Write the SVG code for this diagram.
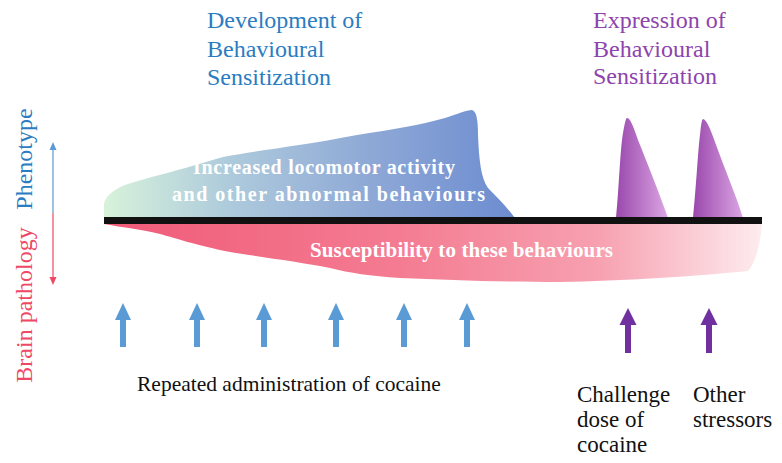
<svg xmlns="http://www.w3.org/2000/svg" width="782" height="463" viewBox="0 0 782 463">
<defs>
<linearGradient id="gBlue" x1="104" y1="0" x2="515" y2="0" gradientUnits="userSpaceOnUse">
<stop offset="0" stop-color="#d8f2da"/>
<stop offset="0.3" stop-color="#aecbdc"/>
<stop offset="0.65" stop-color="#8ea8d6"/>
<stop offset="1" stop-color="#6c8cd0"/>
</linearGradient>
<linearGradient id="gPink" x1="104" y1="0" x2="762" y2="0" gradientUnits="userSpaceOnUse">
<stop offset="0" stop-color="#f05a78"/>
<stop offset="0.45" stop-color="#f47c92"/>
<stop offset="0.75" stop-color="#f7a0b0"/>
<stop offset="1" stop-color="#fdecef"/>
</linearGradient>
<linearGradient id="gPurp" x1="0" y1="0" x2="1" y2="0">
<stop offset="0" stop-color="#9a48ac"/>
<stop offset="1" stop-color="#dba6e4"/>
</linearGradient>
<g id="arrB"><polygon points="0,303 8,320 -8,320" fill="#5b9bd5"/><rect x="-3" y="319" width="6" height="28" fill="#5b9bd5"/></g>
<g id="arrP"><polygon points="0,308 8.5,325 -8.5,325" fill="#7030a0"/><rect x="-3" y="324" width="6" height="29" fill="#7030a0"/></g>
</defs>
<rect width="782" height="463" fill="#ffffff"/>

<g id="title-development">
<text x="207" y="28" font-size="24" style="font-family:'Liberation Serif',serif" fill="#2b7cc0">Development of</text>
<text x="207" y="57" font-size="24" style="font-family:'Liberation Serif',serif" fill="#2b7cc0">Behavioural</text>
<text x="207" y="85" font-size="24" style="font-family:'Liberation Serif',serif" fill="#2b7cc0">Sensitization</text>
</g>
<g id="title-expression">
<text x="593" y="28" font-size="24" style="font-family:'Liberation Serif',serif" fill="#8d44ad">Expression of</text>
<text x="593" y="57" font-size="24" style="font-family:'Liberation Serif',serif" fill="#8d44ad">Behavioural</text>
<text x="593" y="84" font-size="24" style="font-family:'Liberation Serif',serif" fill="#8d44ad">Sensitization</text>
</g>

<g id="axis-labels">
<text font-size="24" style="font-family:'Liberation Serif',serif" fill="#2b7cc0" text-anchor="middle" transform="translate(32,159) rotate(-90)">Phenotype</text>
<text font-size="24" style="font-family:'Liberation Serif',serif" fill="#ee4866" text-anchor="middle" transform="translate(32,305) rotate(-90)">Brain pathology</text>
</g>

<g id="phenotype-shape">
<path d="M104,218 L104,205 C104,198 112,190 125,185 C150,177 180,170 223,157 C260,150 300,146 357,135 C390,130 420,125 445,118 C458,114 466,110 472,110 C476,111 478,118 478,135 C479,160 481,178 488,188 C496,196 505,205 515,218 Z" fill="url(#gBlue)"/>
<text x="193" y="174" font-size="20" style="font-family:'Liberation Serif',serif" font-weight="bold" fill="#ffffff" textLength="262" lengthAdjust="spacing">Increased locomotor activity</text>
<text x="172" y="201" font-size="20" style="font-family:'Liberation Serif',serif" font-weight="bold" fill="#ffffff" textLength="313" lengthAdjust="spacing">and other abnormal behaviours</text>
</g>

<g id="pathology-shape">
<path d="M104,224 L762,224 C761,235 758,260 748,271 C700,276 620,281 560,282 C500,282 450,280 400,278 C370,276 350,273 330,268 C300,262 260,257 230,252 C195,245 175,238 160,234 C140,229 120,227 104,224 Z" fill="url(#gPink)"/>
<text x="310" y="257" font-size="21" style="font-family:'Liberation Serif',serif" font-weight="bold" fill="#ffffff" textLength="303" lengthAdjust="spacing">Susceptibility  to these behaviours</text>
</g>

<g id="peak-challenge">
<path d="M616,218 C619,190 620,150 623,133 C625,122 626,118 627,118 C630,118 633,125 638,140 C648,165 660,195 668,218 Z" fill="url(#gPurp)"/>
</g>
<g id="peak-stressors">
<path d="M693,218 C696,190 698,150 700,135 C701,124 702,119 703,119 C706,119 710,128 715,142 C725,170 736,195 743,218 Z" fill="url(#gPurp)"/>
</g>

<g id="timeline">
<rect x="104" y="217" width="658" height="7" fill="#111111"/>
</g>

<g id="connectors">
<line x1="53" y1="148" x2="53" y2="213" stroke="#5b9bd5" stroke-width="1.2"/>
<polygon points="53,142 56.5,150 49.5,150" fill="#5b9bd5"/>
<line x1="53" y1="213" x2="53" y2="278" stroke="#ee4866" stroke-width="1.2"/>
<polygon points="53,285 56.5,277 49.5,277" fill="#ee4866"/>
<use href="#arrB" x="123"/>
<use href="#arrB" x="197"/>
<use href="#arrB" x="264"/>
<use href="#arrB" x="336"/>
<use href="#arrB" x="404"/>
<use href="#arrB" x="467"/>
<use href="#arrP" x="628"/>
<use href="#arrP" x="709"/>
</g>

<g id="label-repeated">
<text x="137" y="391" font-size="21.5" style="font-family:'Liberation Serif',serif" fill="#111111">Repeated administration of cocaine</text>
</g>
<g id="label-challenge">
<text x="577" y="402" font-size="23" style="font-family:'Liberation Serif',serif" fill="#111111">Challenge</text>
<text x="577" y="427" font-size="23" style="font-family:'Liberation Serif',serif" fill="#111111">dose of</text>
<text x="577" y="452" font-size="23" style="font-family:'Liberation Serif',serif" fill="#111111">cocaine</text>
</g>
<g id="label-stressors">
<text x="693" y="402" font-size="23" style="font-family:'Liberation Serif',serif" fill="#111111">Other</text>
<text x="693" y="427" font-size="23" style="font-family:'Liberation Serif',serif" fill="#111111">stressors</text>
</g>
</svg>
